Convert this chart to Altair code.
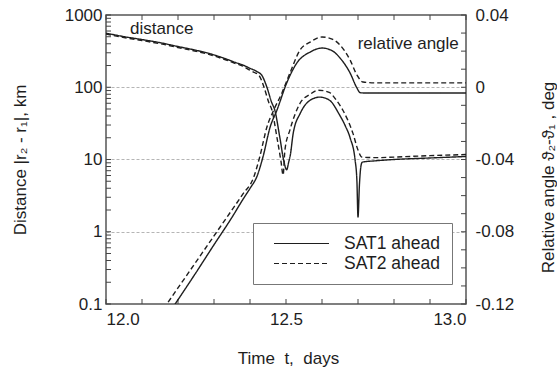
import json
import altair as alt
import pandas as pd

FONT = "Liberation Sans"
INK = "#1e1e1e"
TICK = "#444"

# ---------------- data ----------------
series = ["SAT1 ahead", "SAT2 ahead"]

# distance |r2 - r1|, km  (left, log axis)
dist1_t = [12.00, 12.05, 12.10, 12.15, 12.20, 12.25, 12.29, 12.33, 12.36, 12.38, 12.40, 12.42, 12.433,
           12.447, 12.46, 12.469, 12.483, 12.494, 12.502, 12.507, 12.512, 12.52, 12.54, 12.567, 12.594,
           12.621, 12.648, 12.665, 12.678, 12.692, 12.697, 12.700, 12.704, 12.708, 12.712, 12.75,
           12.80, 12.90, 13.00]
dist1_v = [560, 502, 457, 414, 366, 325, 290, 250, 220, 203, 183, 164, 146,
           100, 62, 48, 20, 9.5, 7.2, 9.0, 11.5, 23, 44, 66, 73,
           66, 42, 29, 20, 9.8, 5.0, 1.6, 4.5, 8.0, 9.2, 9.6,
           10.0, 10.5, 11.0]

dist2_t = [12.00, 12.05, 12.10, 12.15, 12.20, 12.25, 12.29, 12.33, 12.36, 12.38, 12.40, 12.412, 12.425,
           12.439, 12.452, 12.461, 12.475, 12.486, 12.492, 12.497, 12.511, 12.539, 12.567, 12.59,
           12.62, 12.64, 12.658, 12.686, 12.70, 12.711, 12.75, 12.80, 12.90, 13.00]
dist2_v = [545, 488, 443, 401, 355, 315, 281, 242, 213, 196, 172, 160, 146,
           100, 62, 48, 20, 9.5, 6.1, 13.5, 25.7, 60, 80, 91,
           85, 66, 48, 23, 13.5, 10.8, 10.6, 10.8, 11.3, 11.7]

# relative angle, deg  (right, linear axis)
ang1_t = [12.18, 12.25, 12.30, 12.35, 12.38, 12.40, 12.42, 12.436, 12.456, 12.475, 12.502, 12.53,
          12.567, 12.60, 12.63, 12.65, 12.678, 12.697, 12.706, 12.72, 13.00]
ang1_v = [-0.1236, -0.1026, -0.0872, -0.0720, -0.0622, -0.0560, -0.049, -0.0386, -0.022, -0.0126,
          0.0024, 0.0134, 0.0195, 0.0217, 0.0200, 0.0162, 0.0079, -0.0004, -0.0030, -0.0032, -0.0032]

ang2_t = [12.16, 12.25, 12.30, 12.35, 12.38, 12.41, 12.427, 12.447, 12.466, 12.489, 12.511, 12.539,
          12.567, 12.60, 12.63, 12.65, 12.678, 12.697, 12.714, 12.75, 13.00]
ang2_v = [-0.1226, -0.0967, -0.0823, -0.0679, -0.0592, -0.0500, -0.0386, -0.022, -0.0126, -0.003,
          0.0079, 0.0206, 0.025, 0.0278, 0.0265, 0.0234, 0.0151, 0.0068, 0.0029, 0.0024, 0.0024]

# axis ticks and labels
x_labels = [12.0, 12.5, 13.0]
x_ticks = [12.0, 12.1, 12.2, 12.3, 12.4, 12.5, 12.6, 12.7, 12.8, 12.9, 13.0]
left_labels = [0.1, 1, 10, 100, 1000]
left_ticks = [0.1, 0.2, 0.3, 0.4, 0.5, 0.6, 0.7, 0.8, 0.9,
              1, 2, 3, 4, 5, 6, 7, 8, 9,
              10, 20, 30, 40, 50, 60, 70, 80, 90,
              100, 200, 300, 400, 500, 600, 700, 800, 900, 1000]
left_grid = [1, 10, 100]
right_labels = [-0.12, -0.08, -0.04, 0, 0.04]
right_ticks = [-0.12, -0.11, -0.10, -0.09, -0.08, -0.07, -0.06, -0.05, -0.04,
               -0.03, -0.02, -0.01, 0, 0.01, 0.02, 0.03, 0.04]

# annotations (data coordinates)
dist_note = {"t": [12.067], "v": [546], "label": ["distance"]}
ang_note = {"t": [12.98], "v": [0.0212], "label": ["relative angle"]}

# ---------------- tables ----------------
dist_df = pd.concat([
    pd.DataFrame({"t": dist1_t, "v": dist1_v, "series": series[0]}),
    pd.DataFrame({"t": dist2_t, "v": dist2_v, "series": series[1]}),
])
ang_df = pd.concat([
    pd.DataFrame({"t": ang1_t, "v": ang1_v, "series": series[0]}),
    pd.DataFrame({"t": ang2_t, "v": ang2_v, "series": series[1]}),
])

W, H = 360, 289
TL = 5  # inward tick length

x_scale = alt.Scale(domain=[12.0, 13.0], nice=False, zero=False)
ylog = alt.Scale(type="log", domain=[0.1, 1000], nice=False)
ylin = alt.Scale(domain=[-0.12, 0.04], nice=False, zero=False)
dash_scale = alt.Scale(domain=series, range=[[1, 0], [5, 3]])

legend = alt.Legend(
    title=None, orient="none", legendX=147, legendY=208,
    fillColor="white", strokeColor="#777", padding=12,
    symbolType="stroke", symbolSize=3025, clipHeight=17,
    symbolOffset=8, labelOffset=14, rowPadding=2,
    symbolStrokeColor=INK, symbolStrokeWidth=1.2,
    labelFontSize=17.5, labelFont=FONT, labelColor=INK,
)

lab_common = dict(labelFont=FONT, labelFontSize=17, labelColor=INK,
                  titleFont=FONT, titleFontSize=17, titleColor=INK, titleFontWeight="normal",
                  ticks=False, tickSize=0, domain=False, grid=False)

x_main = alt.Axis(orient="bottom", values=x_labels, format=".1f", labelPadding=7,
                  title="Time\u00a0\u00a0t,\u00a0\u00a0days", titleX=182, titleY=59, titleAlign="center",
                  titleBaseline="alphabetic", titleAngle=0, **lab_common)

y_left = alt.Axis(orient="left", values=left_labels, format="~g", labelPadding=4,
                  title="Distance |r\u2082 - r\u2081|, km", titleX=-86, titleY=144.5,
                  titleAngle=270, titleAlign="center", titleBaseline="middle", **lab_common)

y_right = alt.Axis(orient="right", values=right_labels, labelExpr="'' + datum.value", labelPadding=9,
                   title="Relative angle \u03d1\u2082-\u03d1\u2081 ,  deg", titleX=82, titleY=162,
                   titleAngle=270, titleAlign="center", titleBaseline="middle", **lab_common)

line_mark = dict(color=INK, strokeWidth=1.4, clip=True, interpolate="monotone")

dist_lines = alt.Chart(dist_df).mark_line(**line_mark).encode(
    x=alt.X("t:Q", scale=x_scale, axis=x_main),
    y=alt.Y("v:Q", scale=ylog, axis=y_left),
    strokeDash=alt.StrokeDash("series:N", scale=dash_scale, legend=legend),
    detail="series:N",
)

ang_lines = alt.Chart(ang_df).mark_line(**line_mark).encode(
    x=alt.X("t:Q", scale=x_scale, axis=None),
    y=alt.Y("v:Q", scale=ylin, axis=y_right),
    strokeDash=alt.StrokeDash("series:N", scale=dash_scale, legend=legend),
    detail="series:N",
)

grid_layer = alt.Chart(dist_df).mark_line(strokeOpacity=0).encode(
    x=alt.X("t:Q", scale=x_scale, axis=None),
    y=alt.Y("v:Q", scale=ylog, axis=alt.Axis(orient="left", values=left_grid, labels=False, ticks=False,
                                              domain=False, grid=True, gridColor="#b5b5b5",
                                              gridDash=[3, 2], gridWidth=1, title=None)),
    detail="series:N",
)

# inward tick marks along the frame (positions from the tick lists, through the scales)
xt_df = pd.DataFrame({"t": x_ticks})
lt_df = pd.DataFrame({"v": left_ticks})
rt_df = pd.DataFrame({"v": right_ticks})
rule = dict(color=TICK, strokeWidth=1)

ticks_bottom = alt.Chart(xt_df).mark_rule(**rule).encode(
    x=alt.X("t:Q", scale=x_scale, axis=None), y=alt.value(H), y2=alt.value(H - TL))
ticks_top = alt.Chart(xt_df).mark_rule(**rule).encode(
    x=alt.X("t:Q", scale=x_scale, axis=None), y=alt.value(0), y2=alt.value(TL))
ticks_left = alt.Chart(lt_df).mark_rule(**rule).encode(
    y=alt.Y("v:Q", scale=ylog, axis=None), x=alt.value(0), x2=alt.value(TL))
ticks_right = alt.Chart(rt_df).mark_rule(**rule).encode(
    y=alt.Y("v:Q", scale=ylin, axis=None), x=alt.value(W), x2=alt.value(W - TL))

dist_text = alt.Chart(pd.DataFrame(dist_note)).mark_text(
    align="left", baseline="alphabetic", font=FONT, fontSize=17, color=INK
).encode(
    x=alt.X("t:Q", scale=x_scale, axis=None),
    y=alt.Y("v:Q", scale=ylog, axis=None),
    text="label:N",
)
ang_text = alt.Chart(pd.DataFrame(ang_note)).mark_text(
    align="right", baseline="alphabetic", font=FONT, fontSize=17, color=INK
).encode(
    x=alt.X("t:Q", scale=x_scale, axis=None),
    y=alt.Y("v:Q", scale=ylin, axis=None),
    text="label:N",
)

chart = alt.layer(
    grid_layer, ticks_bottom, ticks_top, ticks_left, ticks_right,
    dist_lines, ang_lines, dist_text, ang_text
).resolve_scale(
    y="independent"
).resolve_axis(
    x="independent", y="independent"
).properties(
    width=W, height=H, autosize="none",
    padding={"left": 106, "top": 15, "right": 91, "bottom": 67},
).configure(
    font=FONT, background="white"
).configure_view(
    stroke="#555", strokeWidth=1.5
)

chart.save("out.html", embed_options={"renderer": "svg", "actions": False})
